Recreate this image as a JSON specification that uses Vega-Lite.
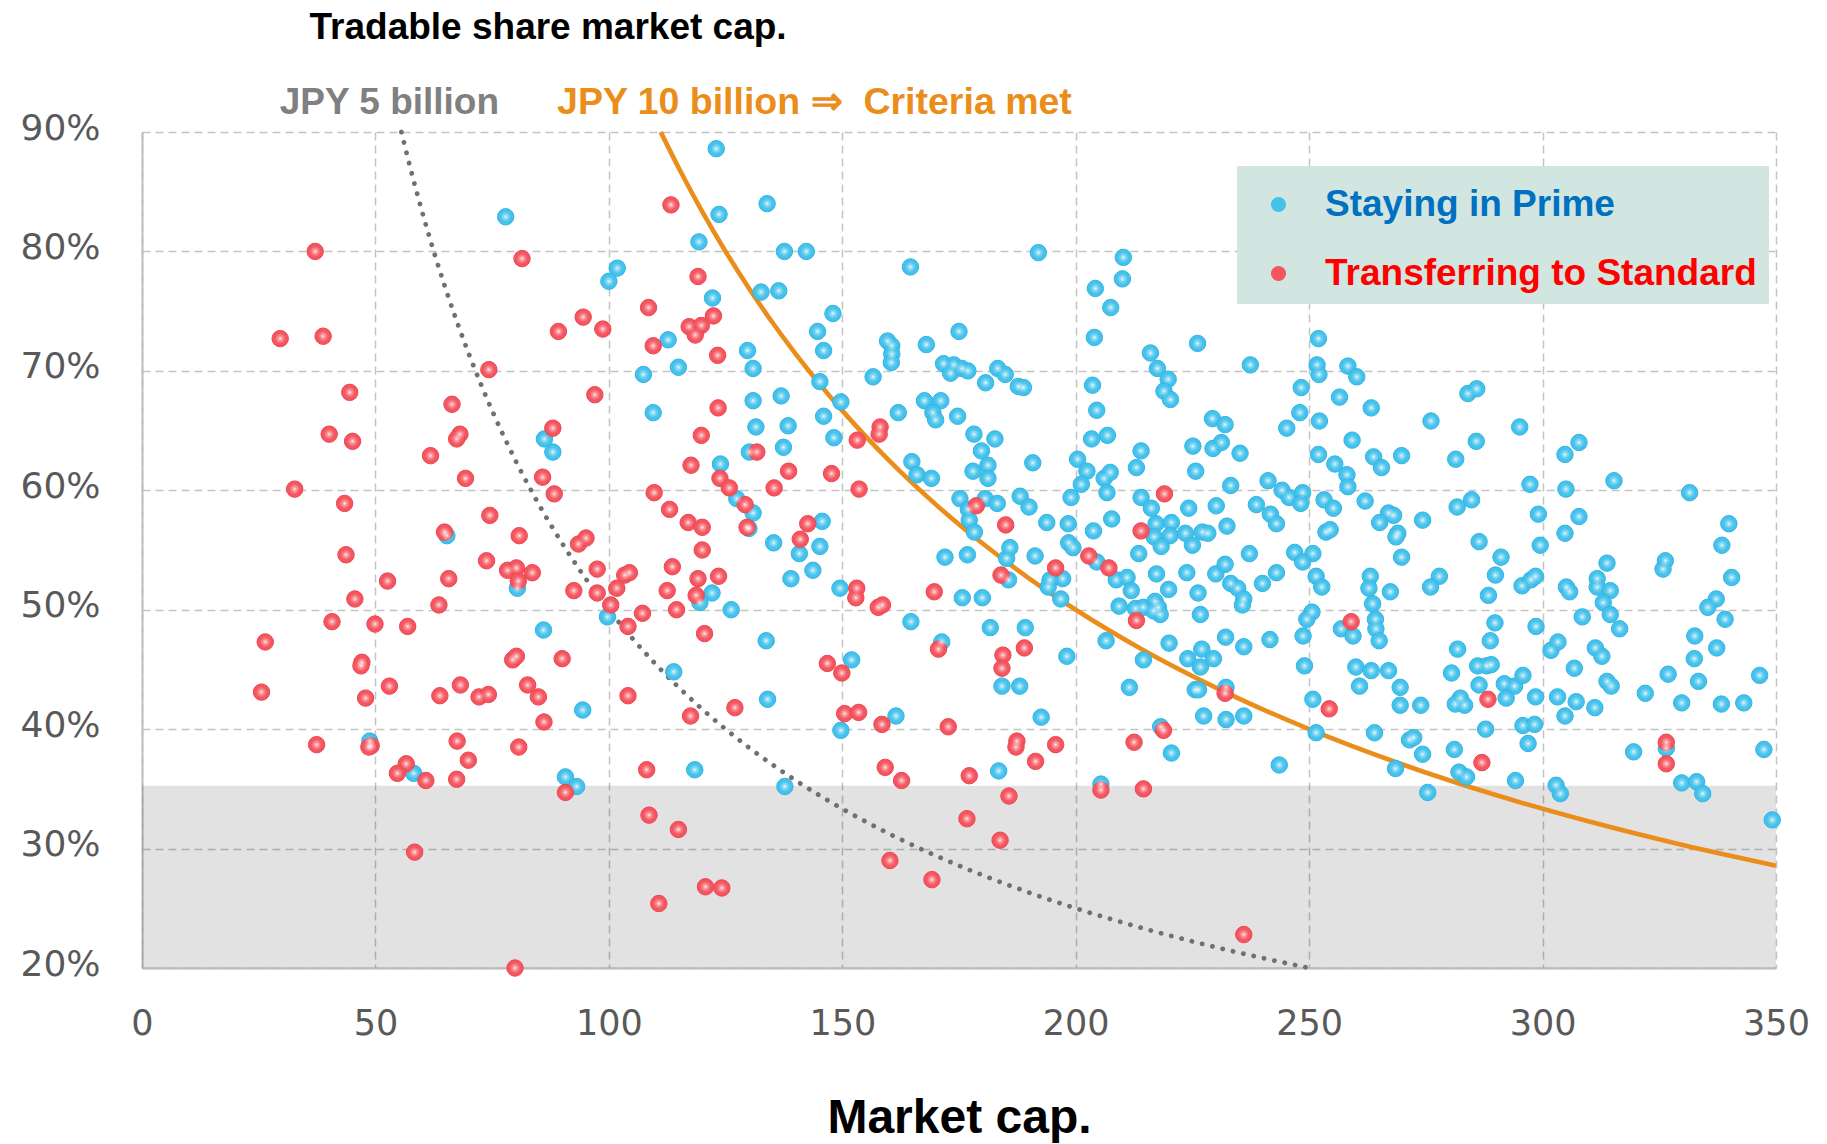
{
"$schema":"https://vega.github.io/schema/vega-lite/v6.json",
"width":1634,"height":836,
"autosize":{"type":"none"},
"padding":{"left":142,"top":132,"right":51,"bottom":176},
"background":"#ffffff",
"config":{"view":{"stroke":null},"font":"Liberation Sans"},
"datasets":{
"points":[
{"cap":77.9,"ratio":82.9,"group":"P"},{"cap":123.0,"ratio":88.6,"group":"P"},{"cap":123.6,"ratio":83.1,"group":"P"},{"cap":133.9,"ratio":84.0,"group":"P"},{"cap":119.3,"ratio":80.8,"group":"P"},{"cap":137.6,"ratio":80.0,"group":"P"},{"cap":142.3,"ratio":80.0,"group":"P"},{"cap":164.6,"ratio":78.7,"group":"P"},{"cap":101.8,"ratio":78.6,"group":"P"},{"cap":100.0,"ratio":77.5,"group":"P"},
{"cap":132.6,"ratio":76.6,"group":"P"},{"cap":136.4,"ratio":76.7,"group":"P"},{"cap":122.2,"ratio":76.1,"group":"P"},{"cap":148.0,"ratio":74.8,"group":"P"},{"cap":144.7,"ratio":73.3,"group":"P"},{"cap":146.0,"ratio":71.7,"group":"P"},{"cap":112.7,"ratio":72.6,"group":"P"},{"cap":129.7,"ratio":71.7,"group":"P"},{"cap":130.9,"ratio":70.2,"group":"P"},{"cap":114.9,"ratio":70.3,"group":"P"},
{"cap":107.4,"ratio":69.7,"group":"P"},{"cap":159.7,"ratio":72.5,"group":"P"},{"cap":160.6,"ratio":72.1,"group":"P"},{"cap":160.6,"ratio":71.4,"group":"P"},{"cap":160.5,"ratio":70.7,"group":"P"},{"cap":168.0,"ratio":72.2,"group":"P"},{"cap":171.7,"ratio":70.6,"group":"P"},{"cap":156.6,"ratio":69.5,"group":"P"},{"cap":145.2,"ratio":69.1,"group":"P"},{"cap":149.7,"ratio":67.4,"group":"P"},
{"cap":167.6,"ratio":67.5,"group":"P"},{"cap":171.1,"ratio":67.5,"group":"P"},{"cap":130.9,"ratio":67.5,"group":"P"},{"cap":136.9,"ratio":67.9,"group":"P"},{"cap":192.0,"ratio":79.9,"group":"P"},{"cap":210.2,"ratio":79.5,"group":"P"},{"cap":210.0,"ratio":77.7,"group":"P"},{"cap":204.2,"ratio":76.9,"group":"P"},{"cap":207.5,"ratio":75.3,"group":"P"},{"cap":204.0,"ratio":72.8,"group":"P"},
{"cap":226.1,"ratio":72.3,"group":"P"},{"cap":216.0,"ratio":71.5,"group":"P"},{"cap":217.5,"ratio":70.2,"group":"P"},{"cap":219.8,"ratio":69.3,"group":"P"},{"cap":218.9,"ratio":68.3,"group":"P"},{"cap":220.3,"ratio":67.6,"group":"P"},{"cap":237.4,"ratio":70.5,"group":"P"},{"cap":252.0,"ratio":72.7,"group":"P"},{"cap":251.7,"ratio":70.5,"group":"P"},{"cap":252.1,"ratio":69.7,"group":"P"},
{"cap":258.3,"ratio":70.4,"group":"P"},{"cap":260.2,"ratio":69.5,"group":"P"},{"cap":248.3,"ratio":68.6,"group":"P"},{"cap":256.5,"ratio":67.8,"group":"P"},{"cap":175.0,"ratio":73.3,"group":"P"},{"cap":173.9,"ratio":70.5,"group":"P"},{"cap":173.2,"ratio":69.8,"group":"P"},{"cap":175.6,"ratio":70.2,"group":"P"},{"cap":176.9,"ratio":70.0,"group":"P"},{"cap":183.3,"ratio":70.2,"group":"P"},
{"cap":184.9,"ratio":69.7,"group":"P"},{"cap":180.7,"ratio":69.0,"group":"P"},{"cap":187.7,"ratio":68.7,"group":"P"},{"cap":188.8,"ratio":68.6,"group":"P"},{"cap":203.6,"ratio":68.8,"group":"P"},{"cap":204.5,"ratio":66.7,"group":"P"},{"cap":284.0,"ratio":68.1,"group":"P"},{"cap":285.9,"ratio":68.5,"group":"P"},{"cap":263.3,"ratio":66.9,"group":"P"},{"cap":65.3,"ratio":56.2,"group":"P"},
{"cap":80.4,"ratio":51.8,"group":"P"},{"cap":86.2,"ratio":64.3,"group":"P"},{"cap":86.0,"ratio":48.3,"group":"P"},{"cap":109.5,"ratio":66.5,"group":"P"},{"cap":131.5,"ratio":65.3,"group":"P"},{"cap":138.4,"ratio":65.4,"group":"P"},{"cap":146.0,"ratio":66.2,"group":"P"},{"cap":162.0,"ratio":66.5,"group":"P"},{"cap":169.4,"ratio":66.5,"group":"P"},{"cap":170.0,"ratio":65.9,"group":"P"},
{"cap":88.0,"ratio":63.2,"group":"P"},{"cap":148.2,"ratio":64.4,"group":"P"},{"cap":130.1,"ratio":63.2,"group":"P"},{"cap":137.4,"ratio":63.6,"group":"P"},{"cap":123.9,"ratio":62.2,"group":"P"},{"cap":164.9,"ratio":62.4,"group":"P"},{"cap":166.0,"ratio":61.3,"group":"P"},{"cap":169.1,"ratio":61.0,"group":"P"},{"cap":127.4,"ratio":59.3,"group":"P"},{"cap":130.9,"ratio":58.1,"group":"P"},
{"cap":130.0,"ratio":56.8,"group":"P"},{"cap":145.7,"ratio":57.4,"group":"P"},{"cap":145.2,"ratio":55.3,"group":"P"},{"cap":140.8,"ratio":54.7,"group":"P"},{"cap":135.3,"ratio":55.6,"group":"P"},{"cap":143.7,"ratio":53.3,"group":"P"},{"cap":139.0,"ratio":52.6,"group":"P"},{"cap":149.5,"ratio":51.8,"group":"P"},{"cap":172.0,"ratio":54.4,"group":"P"},{"cap":122.1,"ratio":51.4,"group":"P"},
{"cap":119.5,"ratio":50.6,"group":"P"},{"cap":126.2,"ratio":50.0,"group":"P"},{"cap":99.7,"ratio":49.4,"group":"P"},{"cap":164.7,"ratio":49.0,"group":"P"},{"cap":133.7,"ratio":47.4,"group":"P"},{"cap":171.3,"ratio":47.3,"group":"P"},{"cap":152.0,"ratio":45.8,"group":"P"},{"cap":113.9,"ratio":44.8,"group":"P"},{"cap":134.0,"ratio":42.5,"group":"P"},{"cap":174.7,"ratio":66.2,"group":"P"},
{"cap":229.3,"ratio":66.0,"group":"P"},{"cap":232.0,"ratio":65.5,"group":"P"},{"cap":248.0,"ratio":66.5,"group":"P"},{"cap":252.2,"ratio":65.8,"group":"P"},{"cap":245.2,"ratio":65.2,"group":"P"},{"cap":259.2,"ratio":64.2,"group":"P"},{"cap":178.2,"ratio":64.7,"group":"P"},{"cap":182.7,"ratio":64.3,"group":"P"},{"cap":179.8,"ratio":63.3,"group":"P"},{"cap":178.0,"ratio":61.6,"group":"P"},
{"cap":181.2,"ratio":62.1,"group":"P"},{"cap":181.2,"ratio":61.0,"group":"P"},{"cap":190.8,"ratio":62.3,"group":"P"},{"cap":200.4,"ratio":62.6,"group":"P"},{"cap":202.4,"ratio":61.6,"group":"P"},{"cap":201.2,"ratio":60.5,"group":"P"},{"cap":203.4,"ratio":64.3,"group":"P"},{"cap":206.8,"ratio":64.6,"group":"P"},{"cap":206.1,"ratio":61.0,"group":"P"},{"cap":207.4,"ratio":61.5,"group":"P"},
{"cap":206.7,"ratio":59.8,"group":"P"},{"cap":214.0,"ratio":63.3,"group":"P"},{"cap":213.0,"ratio":61.9,"group":"P"},{"cap":225.1,"ratio":63.7,"group":"P"},{"cap":229.4,"ratio":63.5,"group":"P"},{"cap":231.2,"ratio":64.0,"group":"P"},{"cap":235.2,"ratio":63.1,"group":"P"},{"cap":225.7,"ratio":61.6,"group":"P"},{"cap":233.2,"ratio":60.4,"group":"P"},{"cap":241.2,"ratio":60.8,"group":"P"},
{"cap":244.2,"ratio":60.0,"group":"P"},{"cap":245.7,"ratio":59.4,"group":"P"},{"cap":248.6,"ratio":59.8,"group":"P"},{"cap":248.2,"ratio":58.9,"group":"P"},{"cap":252.0,"ratio":63.0,"group":"P"},{"cap":255.5,"ratio":62.2,"group":"P"},{"cap":258.1,"ratio":61.3,"group":"P"},{"cap":258.3,"ratio":60.3,"group":"P"},{"cap":175.2,"ratio":59.3,"group":"P"},{"cap":177.0,"ratio":58.4,"group":"P"},
{"cap":177.2,"ratio":57.5,"group":"P"},{"cap":178.3,"ratio":56.5,"group":"P"},{"cap":180.6,"ratio":59.3,"group":"P"},{"cap":183.2,"ratio":58.9,"group":"P"},{"cap":188.1,"ratio":59.5,"group":"P"},{"cap":190.0,"ratio":58.6,"group":"P"},{"cap":193.8,"ratio":57.3,"group":"P"},{"cap":198.4,"ratio":57.2,"group":"P"},{"cap":199.0,"ratio":59.4,"group":"P"},{"cap":203.8,"ratio":56.6,"group":"P"},
{"cap":207.7,"ratio":57.6,"group":"P"},{"cap":214.0,"ratio":59.4,"group":"P"},{"cap":216.2,"ratio":58.5,"group":"P"},{"cap":224.2,"ratio":58.5,"group":"P"},{"cap":230.1,"ratio":58.7,"group":"P"},{"cap":232.4,"ratio":57.0,"group":"P"},{"cap":238.7,"ratio":58.8,"group":"P"},{"cap":241.7,"ratio":58.0,"group":"P"},{"cap":243.0,"ratio":57.2,"group":"P"},{"cap":253.2,"ratio":59.2,"group":"P"},
{"cap":255.2,"ratio":58.5,"group":"P"},{"cap":253.6,"ratio":56.5,"group":"P"},{"cap":254.5,"ratio":56.7,"group":"P"},{"cap":217.2,"ratio":57.2,"group":"P"},{"cap":220.5,"ratio":57.3,"group":"P"},{"cap":216.8,"ratio":56.1,"group":"P"},{"cap":220.2,"ratio":56.2,"group":"P"},{"cap":218.3,"ratio":55.3,"group":"P"},{"cap":223.5,"ratio":56.4,"group":"P"},{"cap":225.0,"ratio":55.4,"group":"P"},
{"cap":227.1,"ratio":56.5,"group":"P"},{"cap":228.3,"ratio":56.4,"group":"P"},{"cap":237.2,"ratio":54.7,"group":"P"},{"cap":246.9,"ratio":54.8,"group":"P"},{"cap":250.8,"ratio":54.7,"group":"P"},{"cap":248.6,"ratio":54.0,"group":"P"},{"cap":176.8,"ratio":54.6,"group":"P"},{"cap":185.2,"ratio":54.3,"group":"P"},{"cap":185.9,"ratio":55.2,"group":"P"},{"cap":191.3,"ratio":54.5,"group":"P"},
{"cap":185.6,"ratio":52.5,"group":"P"},{"cap":197.2,"ratio":52.6,"group":"P"},{"cap":194.5,"ratio":52.5,"group":"P"},{"cap":194.1,"ratio":51.9,"group":"P"},{"cap":196.8,"ratio":50.9,"group":"P"},{"cap":198.5,"ratio":55.6,"group":"P"},{"cap":199.4,"ratio":55.2,"group":"P"},{"cap":204.5,"ratio":54.0,"group":"P"},{"cap":208.7,"ratio":52.5,"group":"P"},{"cap":211.0,"ratio":52.7,"group":"P"},
{"cap":211.9,"ratio":51.6,"group":"P"},{"cap":213.5,"ratio":54.7,"group":"P"},{"cap":217.3,"ratio":53.0,"group":"P"},{"cap":219.9,"ratio":51.7,"group":"P"},{"cap":223.8,"ratio":53.1,"group":"P"},{"cap":226.2,"ratio":51.4,"group":"P"},{"cap":230.0,"ratio":53.0,"group":"P"},{"cap":232.0,"ratio":53.8,"group":"P"},{"cap":233.2,"ratio":52.2,"group":"P"},{"cap":234.7,"ratio":51.8,"group":"P"},
{"cap":236.0,"ratio":50.9,"group":"P"},{"cap":235.7,"ratio":50.4,"group":"P"},{"cap":240.0,"ratio":52.2,"group":"P"},{"cap":243.0,"ratio":53.1,"group":"P"},{"cap":251.5,"ratio":52.8,"group":"P"},{"cap":252.7,"ratio":51.9,"group":"P"},{"cap":175.7,"ratio":51.0,"group":"P"},{"cap":180.0,"ratio":51.0,"group":"P"},{"cap":209.3,"ratio":50.3,"group":"P"},{"cap":212.8,"ratio":50.1,"group":"P"},
{"cap":214.5,"ratio":50.2,"group":"P"},{"cap":217.0,"ratio":50.7,"group":"P"},{"cap":217.7,"ratio":50.2,"group":"P"},{"cap":218.1,"ratio":49.6,"group":"P"},{"cap":216.7,"ratio":49.9,"group":"P"},{"cap":226.7,"ratio":49.6,"group":"P"},{"cap":250.6,"ratio":49.8,"group":"P"},{"cap":249.5,"ratio":49.2,"group":"P"},{"cap":248.7,"ratio":47.8,"group":"P"},{"cap":256.9,"ratio":48.4,"group":"P"},
{"cap":259.4,"ratio":47.8,"group":"P"},{"cap":181.7,"ratio":48.5,"group":"P"},{"cap":189.2,"ratio":48.5,"group":"P"},{"cap":184.2,"ratio":43.6,"group":"P"},{"cap":188.0,"ratio":43.6,"group":"P"},{"cap":198.1,"ratio":46.1,"group":"P"},{"cap":206.5,"ratio":47.4,"group":"P"},{"cap":220.0,"ratio":47.2,"group":"P"},{"cap":232.1,"ratio":47.7,"group":"P"},{"cap":236.0,"ratio":46.9,"group":"P"},
{"cap":241.6,"ratio":47.5,"group":"P"},{"cap":224.0,"ratio":45.9,"group":"P"},{"cap":227.0,"ratio":46.7,"group":"P"},{"cap":229.5,"ratio":45.9,"group":"P"},{"cap":226.7,"ratio":45.2,"group":"P"},{"cap":214.5,"ratio":45.8,"group":"P"},{"cap":249.0,"ratio":45.3,"group":"P"},{"cap":260.0,"ratio":45.2,"group":"P"},{"cap":260.8,"ratio":43.6,"group":"P"},{"cap":211.5,"ratio":43.5,"group":"P"},
{"cap":225.6,"ratio":43.3,"group":"P"},{"cap":226.3,"ratio":43.3,"group":"P"},{"cap":232.2,"ratio":43.5,"group":"P"},{"cap":250.8,"ratio":42.5,"group":"P"},{"cap":276.1,"ratio":65.8,"group":"P"},{"cap":295.1,"ratio":65.3,"group":"P"},{"cap":285.8,"ratio":64.1,"group":"P"},{"cap":263.8,"ratio":62.8,"group":"P"},{"cap":265.5,"ratio":61.9,"group":"P"},{"cap":269.8,"ratio":62.9,"group":"P"},
{"cap":281.4,"ratio":62.6,"group":"P"},{"cap":297.3,"ratio":60.5,"group":"P"},{"cap":304.8,"ratio":63.0,"group":"P"},{"cap":307.8,"ratio":64.0,"group":"P"},{"cap":315.3,"ratio":60.8,"group":"P"},{"cap":305.0,"ratio":60.1,"group":"P"},{"cap":331.5,"ratio":59.8,"group":"P"},{"cap":262.0,"ratio":59.1,"group":"P"},{"cap":267.0,"ratio":58.1,"group":"P"},{"cap":268.1,"ratio":57.9,"group":"P"},
{"cap":265.1,"ratio":57.3,"group":"P"},{"cap":274.3,"ratio":57.5,"group":"P"},{"cap":281.7,"ratio":58.6,"group":"P"},{"cap":284.8,"ratio":59.2,"group":"P"},{"cap":269.0,"ratio":56.4,"group":"P"},{"cap":268.6,"ratio":56.1,"group":"P"},{"cap":269.8,"ratio":54.4,"group":"P"},{"cap":286.4,"ratio":55.7,"group":"P"},{"cap":291.1,"ratio":54.4,"group":"P"},{"cap":289.9,"ratio":52.9,"group":"P"},
{"cap":299.1,"ratio":58.0,"group":"P"},{"cap":299.5,"ratio":55.4,"group":"P"},{"cap":304.8,"ratio":56.4,"group":"P"},{"cap":307.8,"ratio":57.8,"group":"P"},{"cap":313.8,"ratio":53.9,"group":"P"},{"cap":326.3,"ratio":54.1,"group":"P"},{"cap":325.8,"ratio":53.4,"group":"P"},{"cap":339.9,"ratio":57.2,"group":"P"},{"cap":338.4,"ratio":55.4,"group":"P"},{"cap":340.5,"ratio":52.7,"group":"P"},
{"cap":263.1,"ratio":52.8,"group":"P"},{"cap":262.8,"ratio":51.8,"group":"P"},{"cap":267.4,"ratio":51.5,"group":"P"},{"cap":277.9,"ratio":52.8,"group":"P"},{"cap":276.0,"ratio":51.9,"group":"P"},{"cap":288.4,"ratio":51.2,"group":"P"},{"cap":295.6,"ratio":52.0,"group":"P"},{"cap":297.5,"ratio":52.5,"group":"P"},{"cap":298.5,"ratio":52.8,"group":"P"},{"cap":305.1,"ratio":51.9,"group":"P"},
{"cap":305.8,"ratio":51.5,"group":"P"},{"cap":311.7,"ratio":52.6,"group":"P"},{"cap":311.7,"ratio":51.9,"group":"P"},{"cap":314.5,"ratio":51.6,"group":"P"},{"cap":313.0,"ratio":50.6,"group":"P"},{"cap":337.2,"ratio":50.9,"group":"P"},{"cap":335.4,"ratio":50.2,"group":"P"},{"cap":339.1,"ratio":49.2,"group":"P"},{"cap":263.6,"ratio":50.5,"group":"P"},{"cap":264.2,"ratio":49.2,"group":"P"},
{"cap":264.3,"ratio":48.4,"group":"P"},{"cap":265.0,"ratio":47.4,"group":"P"},{"cap":289.8,"ratio":48.9,"group":"P"},{"cap":298.6,"ratio":48.6,"group":"P"},{"cap":308.5,"ratio":49.4,"group":"P"},{"cap":314.5,"ratio":49.6,"group":"P"},{"cap":316.5,"ratio":48.4,"group":"P"},{"cap":288.8,"ratio":47.4,"group":"P"},{"cap":281.8,"ratio":46.7,"group":"P"},{"cap":301.8,"ratio":46.6,"group":"P"},
{"cap":303.3,"ratio":47.3,"group":"P"},{"cap":311.3,"ratio":46.8,"group":"P"},{"cap":312.7,"ratio":46.1,"group":"P"},{"cap":332.6,"ratio":47.8,"group":"P"},{"cap":337.3,"ratio":46.8,"group":"P"},{"cap":332.5,"ratio":45.9,"group":"P"},{"cap":263.3,"ratio":44.9,"group":"P"},{"cap":267.0,"ratio":44.9,"group":"P"},{"cap":269.5,"ratio":43.5,"group":"P"},{"cap":280.5,"ratio":44.7,"group":"P"},
{"cap":286.1,"ratio":45.3,"group":"P"},{"cap":288.0,"ratio":45.3,"group":"P"},{"cap":289.0,"ratio":45.4,"group":"P"},{"cap":286.4,"ratio":43.7,"group":"P"},{"cap":291.8,"ratio":43.8,"group":"P"},{"cap":294.0,"ratio":43.6,"group":"P"},{"cap":295.8,"ratio":44.5,"group":"P"},{"cap":292.2,"ratio":42.6,"group":"P"},{"cap":298.5,"ratio":42.7,"group":"P"},{"cap":306.8,"ratio":45.1,"group":"P"},
{"cap":303.2,"ratio":42.7,"group":"P"},{"cap":307.2,"ratio":42.3,"group":"P"},{"cap":313.8,"ratio":44.0,"group":"P"},{"cap":314.7,"ratio":43.6,"group":"P"},{"cap":322.0,"ratio":43.0,"group":"P"},{"cap":326.9,"ratio":44.6,"group":"P"},{"cap":333.4,"ratio":44.0,"group":"P"},{"cap":346.5,"ratio":44.5,"group":"P"},{"cap":329.8,"ratio":42.2,"group":"P"},{"cap":338.3,"ratio":42.1,"group":"P"},
{"cap":343.1,"ratio":42.2,"group":"P"},{"cap":282.4,"ratio":42.6,"group":"P"},{"cap":48.8,"ratio":39.0,"group":"P"},{"cap":58.2,"ratio":36.3,"group":"P"},{"cap":94.4,"ratio":41.6,"group":"P"},{"cap":161.5,"ratio":41.1,"group":"P"},{"cap":149.7,"ratio":39.9,"group":"P"},{"cap":118.4,"ratio":36.6,"group":"P"},{"cap":90.7,"ratio":36.0,"group":"P"},{"cap":93.1,"ratio":35.2,"group":"P"},
{"cap":137.7,"ratio":35.2,"group":"P"},{"cap":192.6,"ratio":41.0,"group":"P"},{"cap":183.5,"ratio":36.5,"group":"P"},{"cap":205.4,"ratio":35.4,"group":"P"},{"cap":218.2,"ratio":40.2,"group":"P"},{"cap":220.5,"ratio":38.0,"group":"P"},{"cap":227.4,"ratio":41.1,"group":"P"},{"cap":232.2,"ratio":40.8,"group":"P"},{"cap":236.0,"ratio":41.1,"group":"P"},{"cap":243.6,"ratio":37.0,"group":"P"},
{"cap":251.5,"ratio":39.7,"group":"P"},{"cap":269.5,"ratio":42.0,"group":"P"},{"cap":273.9,"ratio":42.0,"group":"P"},{"cap":281.3,"ratio":42.1,"group":"P"},{"cap":283.3,"ratio":42.0,"group":"P"},{"cap":311.2,"ratio":41.8,"group":"P"},{"cap":304.8,"ratio":41.1,"group":"P"},{"cap":264.0,"ratio":39.7,"group":"P"},{"cap":271.5,"ratio":39.1,"group":"P"},{"cap":272.4,"ratio":39.3,"group":"P"},
{"cap":274.3,"ratio":37.9,"group":"P"},{"cap":268.5,"ratio":36.7,"group":"P"},{"cap":275.4,"ratio":34.7,"group":"P"},{"cap":281.1,"ratio":38.3,"group":"P"},{"cap":282.1,"ratio":36.4,"group":"P"},{"cap":283.7,"ratio":36.0,"group":"P"},{"cap":287.8,"ratio":40.0,"group":"P"},{"cap":295.8,"ratio":40.3,"group":"P"},{"cap":298.3,"ratio":40.4,"group":"P"},{"cap":296.9,"ratio":38.8,"group":"P"},
{"cap":294.2,"ratio":35.7,"group":"P"},{"cap":302.9,"ratio":35.3,"group":"P"},{"cap":303.8,"ratio":34.6,"group":"P"},{"cap":319.5,"ratio":38.1,"group":"P"},{"cap":326.5,"ratio":38.4,"group":"P"},{"cap":329.8,"ratio":35.5,"group":"P"},{"cap":333.0,"ratio":35.6,"group":"P"},{"cap":334.3,"ratio":34.6,"group":"P"},{"cap":347.4,"ratio":38.3,"group":"P"},{"cap":349.2,"ratio":32.4,"group":"P"},
{"cap":37.1,"ratio":80.0,"group":"S"},{"cap":81.4,"ratio":79.4,"group":"S"},{"cap":29.6,"ratio":72.7,"group":"S"},{"cap":38.8,"ratio":72.9,"group":"S"},{"cap":74.3,"ratio":70.1,"group":"S"},{"cap":44.5,"ratio":68.2,"group":"S"},{"cap":66.4,"ratio":67.2,"group":"S"},{"cap":113.3,"ratio":83.9,"group":"S"},{"cap":119.1,"ratio":77.9,"group":"S"},{"cap":108.5,"ratio":75.3,"group":"S"},
{"cap":94.5,"ratio":74.5,"group":"S"},{"cap":122.4,"ratio":74.6,"group":"S"},{"cap":89.2,"ratio":73.3,"group":"S"},{"cap":98.7,"ratio":73.5,"group":"S"},{"cap":117.2,"ratio":73.7,"group":"S"},{"cap":119.8,"ratio":73.8,"group":"S"},{"cap":118.5,"ratio":73.0,"group":"S"},{"cap":109.5,"ratio":72.1,"group":"S"},{"cap":123.3,"ratio":71.3,"group":"S"},{"cap":97.0,"ratio":68.0,"group":"S"},
{"cap":123.4,"ratio":66.9,"group":"S"},{"cap":40.1,"ratio":64.7,"group":"S"},{"cap":45.1,"ratio":64.1,"group":"S"},{"cap":68.1,"ratio":64.7,"group":"S"},{"cap":67.4,"ratio":64.3,"group":"S"},{"cap":61.8,"ratio":62.9,"group":"S"},{"cap":69.3,"ratio":61.0,"group":"S"},{"cap":85.8,"ratio":61.1,"group":"S"},{"cap":32.7,"ratio":60.1,"group":"S"},{"cap":43.4,"ratio":58.9,"group":"S"},
{"cap":74.5,"ratio":57.9,"group":"S"},{"cap":64.8,"ratio":56.5,"group":"S"},{"cap":80.8,"ratio":56.2,"group":"S"},{"cap":43.7,"ratio":54.6,"group":"S"},{"cap":73.8,"ratio":54.1,"group":"S"},{"cap":78.3,"ratio":53.3,"group":"S"},{"cap":80.2,"ratio":53.5,"group":"S"},{"cap":83.6,"ratio":53.1,"group":"S"},{"cap":80.6,"ratio":52.4,"group":"S"},{"cap":65.7,"ratio":52.6,"group":"S"},
{"cap":52.6,"ratio":52.4,"group":"S"},{"cap":45.6,"ratio":50.9,"group":"S"},{"cap":63.6,"ratio":50.4,"group":"S"},{"cap":40.7,"ratio":49.0,"group":"S"},{"cap":49.9,"ratio":48.8,"group":"S"},{"cap":56.9,"ratio":48.6,"group":"S"},{"cap":26.4,"ratio":47.3,"group":"S"},{"cap":47.1,"ratio":45.6,"group":"S"},{"cap":46.9,"ratio":45.3,"group":"S"},{"cap":79.4,"ratio":45.8,"group":"S"},
{"cap":80.2,"ratio":46.1,"group":"S"},{"cap":25.6,"ratio":43.1,"group":"S"},{"cap":53.0,"ratio":43.6,"group":"S"},{"cap":47.9,"ratio":42.6,"group":"S"},{"cap":63.8,"ratio":42.8,"group":"S"},{"cap":68.2,"ratio":43.7,"group":"S"},{"cap":72.2,"ratio":42.7,"group":"S"},{"cap":74.2,"ratio":42.9,"group":"S"},{"cap":82.6,"ratio":43.7,"group":"S"},{"cap":84.9,"ratio":42.7,"group":"S"},
{"cap":88.0,"ratio":65.2,"group":"S"},{"cap":88.3,"ratio":59.7,"group":"S"},{"cap":119.8,"ratio":64.6,"group":"S"},{"cap":153.2,"ratio":64.2,"group":"S"},{"cap":158.1,"ratio":65.3,"group":"S"},{"cap":157.9,"ratio":64.7,"group":"S"},{"cap":131.7,"ratio":63.2,"group":"S"},{"cap":138.5,"ratio":61.6,"group":"S"},{"cap":147.7,"ratio":61.4,"group":"S"},{"cap":117.6,"ratio":62.1,"group":"S"},
{"cap":123.8,"ratio":61.0,"group":"S"},{"cap":125.8,"ratio":60.2,"group":"S"},{"cap":135.4,"ratio":60.2,"group":"S"},{"cap":153.6,"ratio":60.1,"group":"S"},{"cap":109.7,"ratio":59.8,"group":"S"},{"cap":113.0,"ratio":58.4,"group":"S"},{"cap":129.2,"ratio":58.8,"group":"S"},{"cap":117.0,"ratio":57.3,"group":"S"},{"cap":120.0,"ratio":56.9,"group":"S"},{"cap":129.6,"ratio":56.9,"group":"S"},
{"cap":142.6,"ratio":57.2,"group":"S"},{"cap":141.0,"ratio":55.9,"group":"S"},{"cap":120.0,"ratio":55.0,"group":"S"},{"cap":93.5,"ratio":55.5,"group":"S"},{"cap":95.1,"ratio":56.0,"group":"S"},{"cap":97.5,"ratio":53.4,"group":"S"},{"cap":103.4,"ratio":52.9,"group":"S"},{"cap":104.4,"ratio":53.1,"group":"S"},{"cap":113.6,"ratio":53.6,"group":"S"},{"cap":119.1,"ratio":52.6,"group":"S"},
{"cap":123.5,"ratio":52.8,"group":"S"},{"cap":153.1,"ratio":51.8,"group":"S"},{"cap":152.9,"ratio":51.0,"group":"S"},{"cap":92.5,"ratio":51.6,"group":"S"},{"cap":97.5,"ratio":51.4,"group":"S"},{"cap":101.7,"ratio":51.8,"group":"S"},{"cap":112.5,"ratio":51.6,"group":"S"},{"cap":118.7,"ratio":51.2,"group":"S"},{"cap":100.4,"ratio":50.4,"group":"S"},{"cap":107.2,"ratio":49.7,"group":"S"},
{"cap":114.5,"ratio":50.0,"group":"S"},{"cap":157.7,"ratio":50.2,"group":"S"},{"cap":158.6,"ratio":50.4,"group":"S"},{"cap":169.7,"ratio":51.5,"group":"S"},{"cap":104.1,"ratio":48.6,"group":"S"},{"cap":120.5,"ratio":48.0,"group":"S"},{"cap":90.0,"ratio":45.9,"group":"S"},{"cap":170.6,"ratio":46.7,"group":"S"},{"cap":146.8,"ratio":45.5,"group":"S"},{"cap":149.9,"ratio":44.7,"group":"S"},
{"cap":104.1,"ratio":42.8,"group":"S"},{"cap":178.7,"ratio":58.7,"group":"S"},{"cap":185.0,"ratio":57.1,"group":"S"},{"cap":219.0,"ratio":59.7,"group":"S"},{"cap":214.0,"ratio":56.6,"group":"S"},{"cap":202.8,"ratio":54.5,"group":"S"},{"cap":207.1,"ratio":53.5,"group":"S"},{"cap":184.0,"ratio":52.9,"group":"S"},{"cap":195.7,"ratio":53.5,"group":"S"},{"cap":213.0,"ratio":49.1,"group":"S"},
{"cap":259.0,"ratio":49.0,"group":"S"},{"cap":189.0,"ratio":46.8,"group":"S"},{"cap":184.4,"ratio":46.2,"group":"S"},{"cap":184.2,"ratio":45.1,"group":"S"},{"cap":232.0,"ratio":43.0,"group":"S"},{"cap":288.3,"ratio":42.5,"group":"S"},{"cap":86.1,"ratio":40.6,"group":"S"},{"cap":37.4,"ratio":38.7,"group":"S"},{"cap":49.1,"ratio":38.6,"group":"S"},{"cap":48.6,"ratio":38.5,"group":"S"},
{"cap":67.5,"ratio":39.0,"group":"S"},{"cap":80.7,"ratio":38.5,"group":"S"},{"cap":69.9,"ratio":37.4,"group":"S"},{"cap":56.6,"ratio":37.1,"group":"S"},{"cap":54.7,"ratio":36.3,"group":"S"},{"cap":60.8,"ratio":35.7,"group":"S"},{"cap":67.4,"ratio":35.8,"group":"S"},{"cap":58.4,"ratio":29.7,"group":"S"},{"cap":79.9,"ratio":20.0,"group":"S"},{"cap":117.5,"ratio":41.1,"group":"S"},
{"cap":127.0,"ratio":41.8,"group":"S"},{"cap":150.5,"ratio":41.3,"group":"S"},{"cap":153.5,"ratio":41.4,"group":"S"},{"cap":158.5,"ratio":40.4,"group":"S"},{"cap":172.7,"ratio":40.2,"group":"S"},{"cap":159.2,"ratio":36.8,"group":"S"},{"cap":162.7,"ratio":35.7,"group":"S"},{"cap":108.1,"ratio":36.6,"group":"S"},{"cap":90.7,"ratio":34.7,"group":"S"},{"cap":108.6,"ratio":32.8,"group":"S"},
{"cap":114.9,"ratio":31.6,"group":"S"},{"cap":110.7,"ratio":25.4,"group":"S"},{"cap":120.7,"ratio":26.8,"group":"S"},{"cap":124.2,"ratio":26.7,"group":"S"},{"cap":160.2,"ratio":29.0,"group":"S"},{"cap":169.2,"ratio":27.4,"group":"S"},{"cap":187.4,"ratio":39.0,"group":"S"},{"cap":187.2,"ratio":38.5,"group":"S"},{"cap":195.7,"ratio":38.7,"group":"S"},{"cap":191.4,"ratio":37.3,"group":"S"},
{"cap":177.2,"ratio":36.1,"group":"S"},{"cap":185.7,"ratio":34.4,"group":"S"},{"cap":176.7,"ratio":32.5,"group":"S"},{"cap":183.8,"ratio":30.7,"group":"S"},{"cap":205.4,"ratio":34.9,"group":"S"},{"cap":212.5,"ratio":38.9,"group":"S"},{"cap":218.8,"ratio":39.9,"group":"S"},{"cap":214.5,"ratio":35.0,"group":"S"},{"cap":236.0,"ratio":22.8,"group":"S"},{"cap":254.3,"ratio":41.7,"group":"S"},
{"cap":287.0,"ratio":37.2,"group":"S"},{"cap":326.5,"ratio":38.9,"group":"S"},{"cap":326.5,"ratio":37.1,"group":"S"}
],
"jpy5":[
{"cap":55.56,"ratio":90},{"cap":57.5,"ratio":86.96},{"cap":60,"ratio":83.33},{"cap":62.5,"ratio":80},{"cap":65,"ratio":76.92},{"cap":67.5,"ratio":74.07},{"cap":70,"ratio":71.43},{"cap":75,"ratio":66.67},{"cap":80,"ratio":62.5},{"cap":85,"ratio":58.82},{"cap":90,"ratio":55.56},{"cap":95,"ratio":52.63},{"cap":100,"ratio":50},{"cap":110,"ratio":45.45},{"cap":120,"ratio":41.67},{"cap":130,"ratio":38.46},{"cap":140,"ratio":35.71},{"cap":150,"ratio":33.33},{"cap":160,"ratio":31.25},{"cap":170,"ratio":29.41},{"cap":180,"ratio":27.78},{"cap":190,"ratio":26.32},{"cap":200,"ratio":25},{"cap":215,"ratio":23.26},{"cap":230,"ratio":21.74},{"cap":250,"ratio":20}
],
"jpy10":[
{"cap":111.11,"ratio":90},{"cap":115,"ratio":86.96},{"cap":120,"ratio":83.33},{"cap":125,"ratio":80},{"cap":130,"ratio":76.92},{"cap":135,"ratio":74.07},{"cap":140,"ratio":71.43},{"cap":150,"ratio":66.67},{"cap":160,"ratio":62.5},{"cap":170,"ratio":58.82},{"cap":180,"ratio":55.56},{"cap":190,"ratio":52.63},{"cap":200,"ratio":50},{"cap":215,"ratio":46.51},{"cap":230,"ratio":43.48},{"cap":250,"ratio":40},{"cap":270,"ratio":37.04},{"cap":290,"ratio":34.48},{"cap":310,"ratio":32.26},{"cap":330,"ratio":30.3},{"cap":350,"ratio":28.57}
]
},
"encoding":{
"x":{"field":"cap","type":"quantitative","scale":{"domain":[0,350],"nice":false,"zero":false},
"axis":{"values":[0,50,100,150,200,250,300,350],"grid":true,"gridColor":"#c4c4c4","gridDash":[8,5],"gridWidth":1.5,"domain":true,"domainColor":"#bdbdbd","domainWidth":2,"ticks":false,"labelFont":"DejaVu Sans","labelFontSize":35,"labelColor":"#595959","labelPadding":38,"labelFlush":false,"labelOverlap":false,"title":"Market cap.","titleFont":"Liberation Sans","titleFontSize":48,"titleFontWeight":"bold","titleColor":"#000000","titlePadding":53}},
"y":{"field":"ratio","type":"quantitative","scale":{"domain":[20,90],"nice":false,"zero":false},
"axis":{"values":[20,30,40,50,60,70,80,90],"labelExpr":"datum.value + '%'","grid":true,"gridColor":"#c4c4c4","gridDash":[8,5],"gridWidth":1.5,"domain":true,"domainColor":"#bdbdbd","domainWidth":2,"ticks":false,"labelFont":"DejaVu Sans","labelFontSize":36,"labelColor":"#595959","labelPadding":42,"labelOffset":-4,"labelOverlap":false,"title":"Tradable share market cap.","titleAngle":0,"titleAlign":"left","titleBaseline":"alphabetic","titleX":167,"titleY":-94,"titleFont":"Liberation Sans","titleFontSize":37,"titleFontWeight":"bold","titleColor":"#000000"}}
},
"layer":[
{"data":{"values":[{"cap":0,"capEnd":350,"ratio":20,"ratioEnd":35.25}]},
 "mark":{"type":"rect","fill":"#000000","opacity":0.113},
 "encoding":{"x2":{"field":"capEnd"},"y2":{"field":"ratioEnd"}}},
{"data":{"name":"jpy5"},
 "mark":{"type":"line","stroke":"#707070","strokeWidth":4.8,"strokeDash":[0.1,10.5],"strokeCap":"round","interpolate":"monotone"}},
{"data":{"name":"jpy10"},
 "mark":{"type":"line","stroke":"#ea8d1a","strokeWidth":4.6,"interpolate":"monotone"}},
{"data":{"name":"points"},
 "mark":{"type":"circle","size":270,"opacity":1,"strokeWidth":1},
 "encoding":{"color":{"field":"group","type":"nominal","scale":{"domain":["P","S"],"range":["#44c2ec","#f5555f"]},
   "legend":{"orient":"none","legendX":1095,"legendY":34,"title":" ","titleFontSize":6,"titlePadding":2,"fillColor":"#d1e6e0","padding":12,"symbolType":"circle","symbolSize":230,"symbolStrokeWidth":0,"symbolOffset":11,"labelOffset":28,"labelFont":"Liberation Sans","labelFontSize":37,"labelFontWeight":"bold","labelLimit":800,"rowPadding":31,
   "labelExpr":"datum.value == 'P' ? 'Staying in Prime' : 'Transferring to Standard'",
   "labelColor":{"expr":"datum.value == 'P' ? '#0070c0' : '#ff0000'"}}},
  "stroke":{"field":"group","type":"nominal","scale":{"domain":["P","S"],"range":["#33b4e2","#ec4653"]},"legend":null}}},
{"data":{"name":"points"},
 "mark":{"type":"circle","size":270,"opacity":1,"fill":{"gradient":"radial","x1":0.5,"y1":0.5,"r1":0,"x2":0.5,"y2":0.5,"r2":0.5,"stops":[{"offset":0,"color":"rgba(255,255,255,0.9)"},{"offset":0.25,"color":"rgba(255,255,255,0.4)"},{"offset":0.65,"color":"rgba(255,255,255,0)"}]}}},
{"data":{"values":[{"cap":29.5,"ratio":91.5,"label":"JPY 5 billion"}]},
 "mark":{"type":"text","align":"left","baseline":"alphabetic","font":"Liberation Sans","fontSize":37,"fontWeight":"bold","fill":"#808080"},
 "encoding":{"text":{"field":"label"}}},
{"data":{"values":[{"cap":88.9,"ratio":91.5,"label":"JPY 10 billion ⇒\u00a0 Criteria met"}]},
 "mark":{"type":"text","align":"left","baseline":"alphabetic","font":"Liberation Sans","fontSize":37.5,"fontWeight":"bold","fill":"#ea8d1a"},
 "encoding":{"text":{"field":"label"}}}
]
}
